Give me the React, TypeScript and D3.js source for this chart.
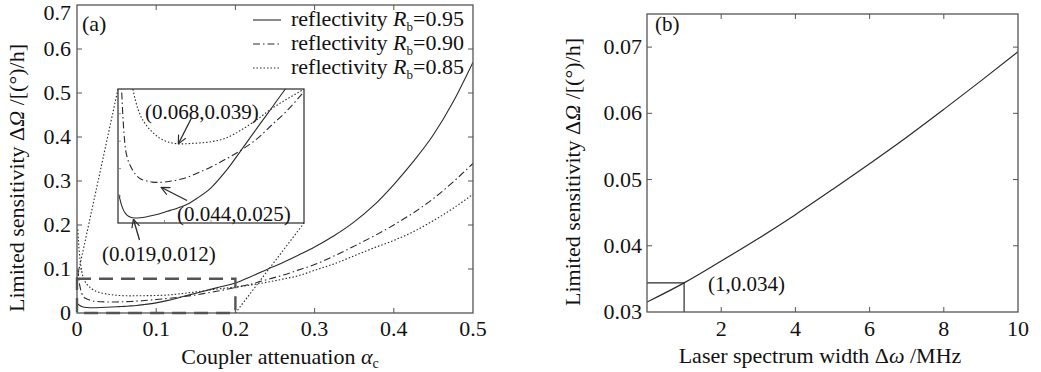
import React from 'react';
import * as d3 from 'd3';

// ---------- data ----------
const alphaC = [0.001, 0.002, 0.004, 0.006, 0.008, 0.01, 0.013, 0.016, 0.019, 0.024, 0.03, 0.037, 0.044, 0.05, 0.056, 0.063, 0.068, 0.075, 0.085, 0.1, 0.115, 0.135, 0.15, 0.165, 0.18, 0.2, 0.22, 0.24, 0.26, 0.28, 0.3, 0.325, 0.35, 0.375, 0.4, 0.425, 0.45, 0.475, 0.5];
const sensR095 = [0.0205, 0.019, 0.0165, 0.0148, 0.0137, 0.013, 0.0124, 0.0121, 0.012, 0.0121, 0.0124, 0.0129, 0.0135, 0.0141, 0.0148, 0.0155, 0.0161, 0.0171, 0.0192, 0.023, 0.0287, 0.0379, 0.045, 0.052, 0.059, 0.068, 0.083, 0.099, 0.115, 0.132, 0.15, 0.176, 0.207, 0.245, 0.292, 0.345, 0.405, 0.48, 0.57];
const sensR090 = [0.1, 0.08, 0.058, 0.045, 0.0373, 0.034, 0.0312, 0.0293, 0.0278, 0.0263, 0.0256, 0.0251, 0.025, 0.0251, 0.0254, 0.0258, 0.0262, 0.0269, 0.0283, 0.0306, 0.0333, 0.0373, 0.041, 0.0458, 0.0505, 0.058, 0.066, 0.076, 0.086, 0.098, 0.11, 0.13, 0.152, 0.175, 0.2, 0.228, 0.26, 0.298, 0.34];
const sensR085 = [0.19, 0.16, 0.12, 0.095, 0.08, 0.072, 0.064, 0.059, 0.0545, 0.0495, 0.046, 0.0433, 0.0413, 0.0402, 0.0395, 0.0391, 0.039, 0.0391, 0.0393, 0.0398, 0.041, 0.0446, 0.048, 0.0518, 0.055, 0.059, 0.064, 0.07, 0.077, 0.085, 0.097, 0.112, 0.13, 0.148, 0.165, 0.185, 0.21, 0.238, 0.27];
const reflectivity = ['0.95', '0.90', '0.85'];
const leftXTicks = [0, 0.1, 0.2, 0.3, 0.4, 0.5];
const leftYTicks = [0, 0.1, 0.2, 0.3, 0.4, 0.5, 0.6, 0.7];
const insetXTicks = [0.05, 0.1, 0.15];
const insetYTicks = [0.02, 0.03, 0.04, 0.05];
const zoomBox = { x0: 0, x1: 0.2, y0: 0, y1: 0.078 };

const laserWidth = [0, 1, 2, 3, 4, 5, 6, 7, 8, 9, 10];
const sensLaser = [0.0315, 0.0344, 0.0377, 0.0411, 0.0447, 0.0485, 0.0524, 0.0564, 0.0606, 0.0649, 0.0693];
const rightXTicks = [2, 4, 6, 8, 10];
const rightYTicks = [0.03, 0.04, 0.05, 0.06, 0.07];

// ---------- layout ----------
const W = 1041, H = 372;
const FONT = '"Liberation Serif", "DejaVu Serif", "Times New Roman", serif';
const INK = '#2a2a2a';
const FRAME = '#555';
const dashes = [null, '7,3,1.5,3', '1.5,2'];

const xA = d3.scaleLinear().domain([0, 0.5]).range([77, 473]);
const yA = d3.scaleLinear().domain([0, 0.7]).range([313, 5]);
const xI = d3.scaleLinear().domain([0, 0.2]).range([118, 304]);
const yI = d3.scaleLinear().domain([0.0102, 0.059]).range([223, 89]);
const xB = d3.scaleLinear().domain([0, 10]).range([647, 1018]);
const yB = d3.scaleLinear().domain([0.03, 0.075]).range([312, 14]);

const seriesA = [sensR095, sensR090, sensR085];

function linePath(xs: number[], ys: number[], sx: any, sy: any) {
  const gen = d3.line<number>().x((_, i) => sx(xs[i])).y((d) => sy(d)).curve(d3.curveMonotoneX);
  return gen(ys) || '';
}

export default function App() {
  const fmt = (v: number) => (v === 0 ? '0' : String(v));
  const [fa0, fa1] = xA.range();
  const [ya0, ya1] = yA.range();
  const [fb0, fb1] = xB.range();
  const [yb0, yb1] = yB.range();
  const ix0 = xI.range()[0], ix1 = xI.range()[1];
  const iy0 = yI.range()[0], iy1 = yI.range()[1];

  return (
    <svg width={W} height={H} style={{ position: 'absolute', left: 0, top: 0, background: '#fff' }} fontFamily={FONT}>
      <defs>
        <clipPath id="clipA"><rect x={fa0} y={ya1} width={fa1 - fa0} height={ya0 - ya1} /></clipPath>
        <clipPath id="clipI"><rect x={ix0} y={iy1} width={ix1 - ix0} height={iy0 - iy1} /></clipPath>
        <clipPath id="clipB"><rect x={fb0} y={yb1} width={fb1 - fb0} height={yb0 - yb1} /></clipPath>
        <marker id="arr" viewBox="0 0 10 10" refX="9" refY="5" markerWidth="9" markerHeight="9" orient="auto" markerUnits="userSpaceOnUse">
          <path d="M0,0.5 L9.5,5 L0,9.5" fill="none" stroke={INK} strokeWidth={1.3} />
        </marker>
      </defs>
      <rect width={W} height={H} fill="#fff" />

      {/* ================= panel (a) ================= */}
      <g>
        <g clipPath="url(#clipA)">
          {seriesA.map((s, i) => (
            <path key={i} d={linePath(alphaC, s, xA, yA)} fill="none" stroke={INK} strokeWidth={1.1}
              strokeDasharray={dashes[i] || undefined} />
          ))}
        </g>
        <rect x={xA(zoomBox.x0)} y={yA(zoomBox.y1)} width={xA(zoomBox.x1) - xA(zoomBox.x0)} height={yA(zoomBox.y0) - yA(zoomBox.y1)}
          fill="none" stroke="#555" strokeWidth={2.4} strokeDasharray="14,8" />
        <line x1={xA(zoomBox.x0)} y1={yA(zoomBox.y1)} x2={ix0} y2={iy1} stroke={INK} strokeWidth={1.1} strokeDasharray="1.5,2" />
        <line x1={xA(zoomBox.x1)} y1={yA(zoomBox.y0)} x2={ix1} y2={iy0} stroke={INK} strokeWidth={1.1} strokeDasharray="1.5,2" />

        <rect x={fa0} y={ya1} width={fa1 - fa0} height={ya0 - ya1} fill="none" stroke={FRAME} strokeWidth={1.3} />
        {leftXTicks.slice(1, -1).map((t) => (
          <g key={t}>
            <line x1={xA(t)} x2={xA(t)} y1={ya0} y2={ya0 - 5} stroke={FRAME} strokeWidth={1} />
            <line x1={xA(t)} x2={xA(t)} y1={ya1} y2={ya1 + 5} stroke={FRAME} strokeWidth={1} />
          </g>
        ))}
        {leftYTicks.slice(1, -1).map((t) => (
          <g key={t}>
            <line x1={fa0} x2={fa0 + 5} y1={yA(t)} y2={yA(t)} stroke={FRAME} strokeWidth={1} />
            <line x1={fa1} x2={fa1 - 5} y1={yA(t)} y2={yA(t)} stroke={FRAME} strokeWidth={1} />
          </g>
        ))}
        {leftXTicks.map((t) => (
          <text key={t} x={xA(t)} y={336} fontSize={22} textAnchor="middle" fill="#111">{fmt(t)}</text>
        ))}
        {leftYTicks.map((t) => (
          <text key={t} x={71} y={Math.max(yA(t) + 7, 20)} fontSize={22} textAnchor="end" fill="#111">{fmt(t)}</text>
        ))}
        <text x={82} y={31} fontSize={22} fill="#111">(a)</text>

        {reflectivity.map((r, i) => (
          <g key={r}>
            <line x1={253} x2={281} y1={20 + i * 24} y2={20 + i * 24} stroke={INK} strokeWidth={1.1} strokeDasharray={dashes[i] || undefined} />
            <text x={291} y={26 + i * 24} fontSize={22} fill="#111">
              reflectivity <tspan fontStyle="italic">R</tspan><tspan fontSize={13} dy={5}>b</tspan><tspan dy={-5}>={r}</tspan>
            </text>
          </g>
        ))}

        {/* inset */}
        <rect x={ix0} y={iy1} width={ix1 - ix0} height={iy0 - iy1} fill="#fff" />
        <g clipPath="url(#clipI)">
          {seriesA.map((s, i) => (
            <path key={i} d={linePath(alphaC, s, xI, yI)} fill="none" stroke={INK} strokeWidth={1.1}
              strokeDasharray={dashes[i] || undefined} />
          ))}
        </g>
        <rect x={ix0} y={iy1} width={ix1 - ix0} height={iy0 - iy1} fill="none" stroke={INK} strokeWidth={1.2} />
        {insetXTicks.map((t) => (
          <line key={t} x1={xI(t)} x2={xI(t)} y1={iy0} y2={iy0 - 3} stroke="#777" strokeWidth={0.8} />
        ))}
        {insetYTicks.map((t) => (
          <line key={t} x1={ix0} x2={ix0 + 3} y1={yI(t)} y2={yI(t)} stroke="#777" strokeWidth={0.8} />
        ))}

        <text x={145} y={119} fontSize={21} fill="#111">(0.068,0.039)</text>
        <line x1={192} y1={117} x2={178.5} y2={143.5} stroke={INK} strokeWidth={1.3} markerEnd="url(#arr)" />
        <text x={177} y={221} fontSize={21} fill="#111">(0.044,0.025)</text>
        <line x1={187} y1={200.5} x2={161.5} y2={187.5} stroke={INK} strokeWidth={1.3} markerEnd="url(#arr)" />
        <text x={102} y={261} fontSize={21} fill="#111">(0.019,0.012)</text>
        <line x1={139.5} y1={240} x2={133.5} y2={219.5} stroke={INK} strokeWidth={1.3} markerEnd="url(#arr)" />

        <text x={280} y={364} fontSize={22} textAnchor="middle" fill="#111">
          Coupler attenuation <tspan fontStyle="italic">α</tspan><tspan fontSize={14} dy={4}>c</tspan>
        </text>
        <text transform={`translate(24,178) rotate(-90)`} fontSize={22} textAnchor="middle" fill="#111">
          Limited sensitivity Δ<tspan fontStyle="italic">Ω</tspan> /[(°)/h]
        </text>
      </g>

      {/* ================= panel (b) ================= */}
      <g>
        <g clipPath="url(#clipB)">
          <path d={linePath(laserWidth, sensLaser, xB, yB)} fill="none" stroke={INK} strokeWidth={1.2} />
        </g>
        <polyline points={`${fb0},${yB(sensLaser[1])} ${xB(laserWidth[1])},${yB(sensLaser[1])} ${xB(laserWidth[1])},${yb0}`}
          fill="none" stroke={INK} strokeWidth={1.2} />
        <rect x={fb0} y={yb1} width={fb1 - fb0} height={yb0 - yb1} fill="none" stroke={FRAME} strokeWidth={1.3} />
        {rightXTicks.slice(0, -1).map((t) => (
          <g key={t}>
            <line x1={xB(t)} x2={xB(t)} y1={yb0} y2={yb0 - 5} stroke={FRAME} strokeWidth={1} />
            <line x1={xB(t)} x2={xB(t)} y1={yb1} y2={yb1 + 5} stroke={FRAME} strokeWidth={1} />
          </g>
        ))}
        {rightYTicks.slice(1).map((t) => (
          <g key={t}>
            <line x1={fb0} x2={fb0 + 5} y1={yB(t)} y2={yB(t)} stroke={FRAME} strokeWidth={1} />
            <line x1={fb1} x2={fb1 - 5} y1={yB(t)} y2={yB(t)} stroke={FRAME} strokeWidth={1} />
          </g>
        ))}
        {rightXTicks.map((t) => (
          <text key={t} x={xB(t)} y={336} fontSize={22} textAnchor="middle" fill="#111">{t}</text>
        ))}
        {rightYTicks.map((t) => (
          <text key={t} x={642} y={yB(t) + 7} fontSize={22} textAnchor="end" fill="#111">{t.toFixed(2)}</text>
        ))}
        <text x={655} y={31} fontSize={21} fill="#111">(b)</text>
        <text x={708} y={291} fontSize={21} fill="#111">(1,0.034)</text>
        <text x={820} y={363} fontSize={22} textAnchor="middle" fill="#111">
          Laser spectrum width Δ<tspan fontStyle="italic">ω</tspan> /MHz
        </text>
        <text transform={`translate(580,172) rotate(-90)`} fontSize={22} textAnchor="middle" fill="#111">
          Limited sensitivity Δ<tspan fontStyle="italic">Ω</tspan> /[(°)/h]
        </text>
      </g>
    </svg>
  );
}
